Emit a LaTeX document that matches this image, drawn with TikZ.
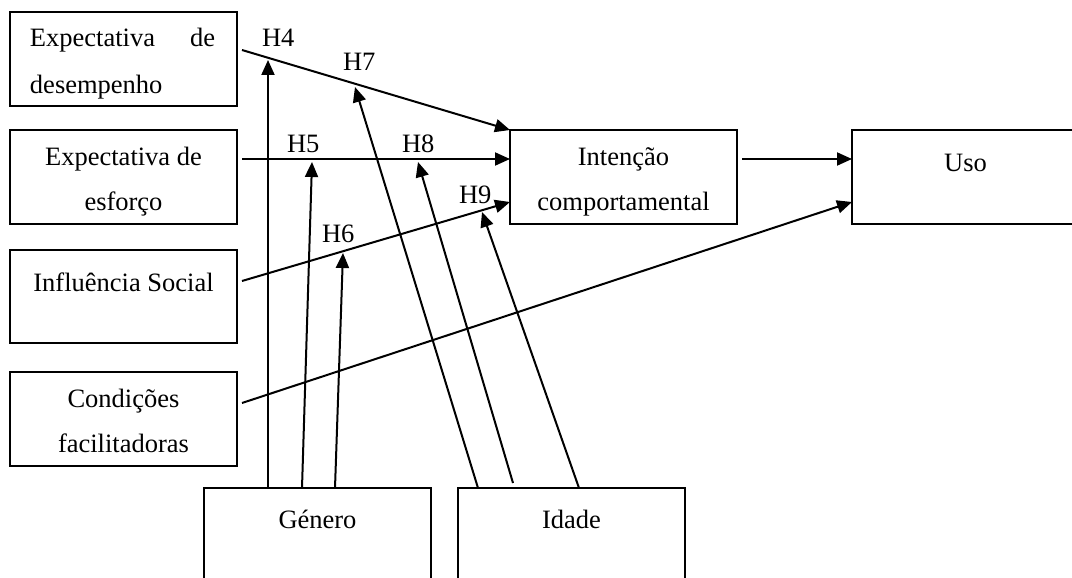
\documentclass[tikz,border=0pt]{standalone}
\usepackage{fontspec}
\setmainfont{Liberation Serif}
\usetikzlibrary{arrows.meta,calc}

\tikzset{
  box/.style={draw, line width=2.4pt, rectangle, minimum width=227pt,
    minimum height=94pt, inner sep=0pt, outer sep=0pt, anchor=north west},
  openbox/.style={box, draw=none},
  edge line/.style={line width=2.4pt, line cap=rect},
  txt/.style={inner sep=0pt, outer sep=0pt, anchor=base,
    font=\fontsize{26.5pt}{32pt}\selectfont},
  hlabel/.style={txt, anchor=base west},
  link/.style={line width=2pt, -{Triangle[length=15pt,width=13pt]}}
}

\begin{document}
\begin{tikzpicture}[x=1pt, y=-1pt]
  \useasboundingbox (0,0) rectangle (1072,578);
  \fill[white] (0,0) rectangle (1072,578);

  % construct boxes
  \node[box] (ed)  at (10,12)  {};
  \node[box] (ee)  at (10,130) {};
  \node[box, minimum height=93pt] (is) at (10,250) {};
  \node[box] (cf)  at (10,372) {};
  \node[box] (ic)  at (510,130) {};
  % boxes running past the edge of the page: only their visible sides
  \node[openbox, minimum width=220pt] (uso) at (852,130) {};
  \draw[edge line] (uso.north east) -- (uso.north west)
    -- (uso.south west) -- (uso.south east);
  \node[openbox, minimum height=90pt] (gen) at (204,488) {};
  \draw[edge line] (gen.south west) -- (gen.north west)
    -- (gen.north east) -- (gen.south east);
  \node[openbox, minimum height=90pt] (ida) at (458,488) {};
  \draw[edge line] (ida.south west) -- (ida.north west)
    -- (ida.north east) -- (ida.south east);

  % box texts
  \node[txt, anchor=base west] (ed1) at (30,47)
    {\makebox[185pt][s]{Expectativa\hfill de}};
  \node[txt, anchor=base west] (ed2) at (30,93) {desempenho};
  \node[txt] (ee1) at (123.5,165) {Expectativa de};
  \node[txt] (ee2) at (123.5,210) {esforço};
  \node[txt] (is1) at (123.5,291) {Influência Social};
  \node[txt] (cf1) at (123.5,407) {Condições};
  \node[txt] (cf2) at (123.5,452) {facilitadoras};
  \node[txt] (ic1) at (623.5,165) {Intenção};
  \node[txt] (ic2) at (623.5,210) {comportamental};
  \node[txt] (uso1) at (965.5,171) {Uso};
  \node[txt] (gen1) at (317.5,528) {Género};
  \node[txt] (ida1) at (571.5,528) {Idade};

  % direct effects
  \draw[link] ($(ed.north east)+(5,38)$) -- (ic.north west);
  \draw[link] ($(ee.north east)+(5,29)$) -- ($(ic.north west)+(0,29)$);
  \draw[link] ($(is.north east)+(5,31)$) -- ($(ic.north west)+(0,72)$);
  \draw[link] ($(cf.north east)+(5,31)$) -- ($(uso.north west)+(0,72)$);
  \draw[link] ($(ic.north east)+(5,29)$) -- ($(uso.north west)+(0,29)$);

  % moderation points on the direct effects
  \coordinate (m4) at (268,60);
  \coordinate (m5) at (312,162);
  \coordinate (m6) at (343,253);
  \coordinate (m7) at (355,87);
  \coordinate (m8) at (418,162);
  \coordinate (m9) at (482,212);
  \coordinate (idb) at (513,483);

  % moderators
  \draw[link] ($(gen.north west)+(64,0)$) -- (m4);
  \draw[link] ($(gen.north west)+(98,0)$) -- (m5);
  \draw[link] ($(gen.north west)+(131,0)$) -- (m6);
  \draw[link] ($(ida.north west)+(20,0)$) -- (m7);
  \draw[link] (idb) -- (m8);
  \draw[link] ($(ida.north west)+(121,0)$) -- (m9);

  % hypothesis labels
  \node[hlabel] (h4) at (262,47)  {H4};
  \node[hlabel] (h7) at (343,71)  {H7};
  \node[hlabel] (h5) at (287,152) {H5};
  \node[hlabel] (h8) at (402,152) {H8};
  \node[hlabel] (h9) at (459,203) {H9};
  \node[hlabel] (h6) at (322,242) {H6};
\end{tikzpicture}
\end{document}
